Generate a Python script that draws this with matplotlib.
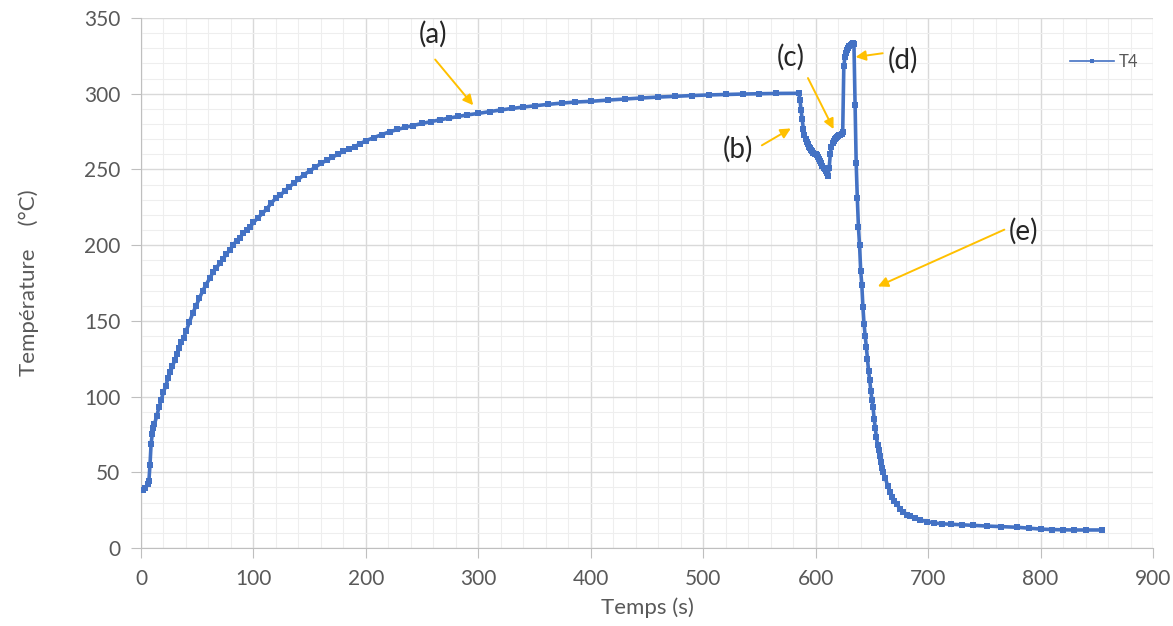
import matplotlib
matplotlib.use("Agg")
import matplotlib.pyplot as plt
from matplotlib.ticker import MultipleLocator

plt.rcParams['font.family'] = ['Lato', 'DejaVu Sans']

# T4 thermocouple reading, time (s) / temperature (degC)
t_rise = [0, 2, 4, 6, 7, 8, 9, 10, 11, 12, 14, 16, 18, 20, 22, 24, 26, 28, 30,
          32, 34, 36, 38, 40, 43, 46, 49, 52, 55, 58, 61, 64, 67, 70, 73, 76,
          79, 82, 85, 88, 91, 94, 97, 100, 104, 108, 112, 116, 120, 124, 128,
          132, 136, 140, 145, 150, 155, 160, 165, 170, 175, 180, 185, 190, 195,
          200, 207, 214, 221, 228, 235, 242, 250, 258, 266, 274, 282, 290, 300,
          310, 320, 330, 340, 350, 362, 374, 386, 400, 415, 430, 445, 460, 475,
          490, 505, 520, 535, 550, 565]
T_rise = [38, 38.5, 39.5, 42, 44, 55, 69, 75, 79, 82, 87, 93, 98, 103, 107, 112,
          116, 120, 124, 128, 132, 136, 139, 143, 149, 155, 160, 165, 170, 174,
          178, 182, 185, 188, 191, 194, 197, 200, 203, 205, 208, 210, 212, 215,
          218, 221, 224, 228, 231, 233, 236, 238.5, 241, 243.5, 246.5, 249,
          251.5, 254, 256, 258, 260, 262, 263.5, 265, 267, 269, 271, 273, 274.8,
          276.4, 277.8, 279, 280.4, 281.6, 282.8, 283.9, 285, 286, 287, 288.2,
          289.3, 290.3, 291.2, 292, 293, 293.8, 294.5, 295, 295.8, 296.5, 297.2,
          297.8, 298.3, 298.8, 299.2, 299.5, 299.8, 300, 300.2]

# quench events, 1 s sampling
t_event = list(range(585, 661))
T_event = [300.3, 296, 289, 283, 277, 273, 270, 268, 266.5, 265, 264, 263, 262,
           261, 260.5, 260, 259.5, 258.5, 257, 255.5, 254, 252.5, 251, 250, 249,
           247.5, 245.5, 251, 260.5, 265, 267.5, 269, 270, 271, 271.5, 272, 272.5,
           273, 273.5, 274.5, 318, 324.5, 327, 329, 330.5, 331.5, 332.5, 333,
           333.5, 333, 292.5, 254, 231, 212, 200, 183, 174, 159, 148, 140, 133,
           125, 117, 111, 104, 98, 93, 85, 79, 73, 68, 65, 61, 57, 53, 50]

t_cool = [662, 664, 666, 668, 670, 672, 675, 678, 681, 684, 688, 693, 699, 705,
          712, 720, 730, 740, 752, 765, 779, 790, 800, 810, 820, 830, 840, 855]
T_cool = [46, 41, 37, 34, 31, 29, 26, 24, 22, 21, 19.8, 18.5, 17.4, 16.6, 16,
          15.7, 15.3, 15, 14.5, 14.1, 13.7, 13.1, 12.5, 12.2, 12, 11.9, 11.9, 11.9]

temps = t_rise + t_event + t_cool
vals = T_rise + T_event + T_cool

labels = ['(a)', '(b)', '(c)', '(d)', '(e)']
label_xy = [(260, 339), (531, 263), (578, 324), (678, 322), (785, 209)]
arrow_from = [(260, 324), (550, 265), (592, 312), (662, 327), (770, 211)]
arrow_to = [(297, 291), (580, 278), (617, 275), (633, 324), (653, 172)]

fig = plt.figure(figsize=(11.73, 6.26), dpi=100)
ax = fig.add_axes([0.1202, 0.1246, 0.8628, 0.8466])

blue = '#4472C4'
ax.plot(temps, vals, color=blue, lw=2.6, marker='s', markersize=4.2,
        markeredgewidth=0, label='T4', zorder=3)

ax.set_xlim(0, 900)
ax.set_ylim(0, 350)
ax.xaxis.set_major_locator(MultipleLocator(100))
ax.xaxis.set_minor_locator(MultipleLocator(20))
ax.yaxis.set_major_locator(MultipleLocator(50))
ax.yaxis.set_minor_locator(MultipleLocator(10))
ax.grid(which='major', color='#D9D9D9', lw=1.0)
ax.grid(which='minor', color='#EEEEEE', lw=0.8)
ax.set_axisbelow(True)

for s in ['top', 'right']:
    ax.spines[s].set_visible(False)
for s in ['left', 'bottom']:
    ax.spines[s].set_color('#BFBFBF')
ax.tick_params(which='major', length=7, color='#BFBFBF', labelsize=15,
               labelcolor='#595959', pad=8)
ax.tick_params(which='minor', length=0)

ax.set_xlabel('Temps (s)', fontsize=16, color='#595959', labelpad=6)
ax.set_ylabel('Température    (°C)', fontsize=16, color='#595959', labelpad=32)

for lab, xy, a0, a1 in zip(labels, label_xy, arrow_from, arrow_to):
    ax.text(xy[0], xy[1], lab, fontsize=20, color='#262626',
            ha='center', va='center')
    ax.annotate('', xy=a1, xytext=a0,
                arrowprops=dict(arrowstyle='-|>', color='#FFC000', lw=1.4,
                                mutation_scale=15))

leg = ax.legend(loc='upper right', bbox_to_anchor=(1.0, 0.96), frameon=False,
                fontsize=12, labelcolor='#595959', handlelength=2.6,
                handletextpad=0.3)
leg.get_lines()[0].set_linewidth(1.2)
leg.get_lines()[0].set_markersize(2.5)

fig.savefig('out.png', dpi=100)
